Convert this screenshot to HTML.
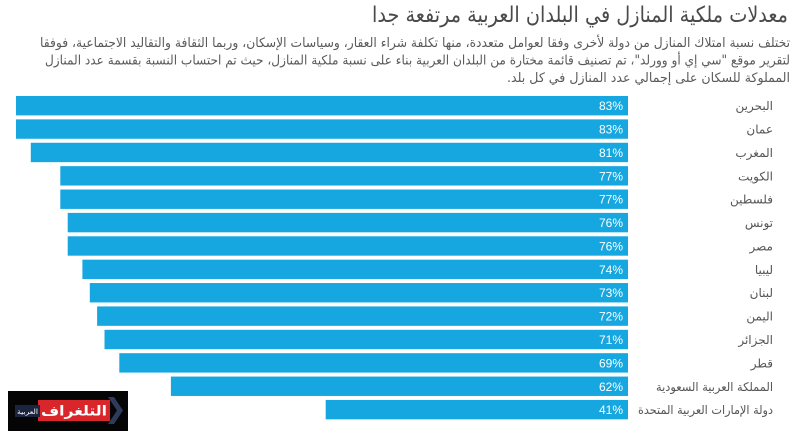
<!DOCTYPE html>
<html lang="ar">
<head>
<meta charset="utf-8">
<style>
  html,body{margin:0;padding:0;background:#fff;}
  body{width:800px;height:435px;overflow:hidden;}
  svg{display:block;}
  .ar{font-family:"DejaVu Sans","Liberation Sans",sans-serif;}
  .pct{font-family:"Liberation Sans",sans-serif;font-size:12px;fill:#fff;}
  .lbl{font-family:"DejaVu Sans","Liberation Sans",sans-serif;font-size:12px;fill:#555;}
</style>
</head>
<body>
<svg width="800" height="435" viewBox="0 0 800 435" xmlns="http://www.w3.org/2000/svg">
  <rect x="0" y="0" width="800" height="435" fill="#fff"/>

  <!-- Title -->
  <text class="ar" direction="rtl" text-anchor="start" x="788" y="22" font-size="22" fill="#4a4a4a" textLength="416" lengthAdjust="spacingAndGlyphs">معدلات ملكية المنازل في البلدان العربية مرتفعة جدا</text>

  <!-- Subtitle -->
  <text class="ar" direction="rtl" text-anchor="start" x="790" y="47" font-size="13" fill="#5a5a5a" textLength="750" lengthAdjust="spacingAndGlyphs">تختلف نسبة امتلاك المنازل من دولة لأخرى وفقا لعوامل متعددة، منها تكلفة شراء العقار، وسياسات الإسكان، وربما الثقافة والتقاليد الاجتماعية، فوفقا</text>
  <text class="ar" direction="rtl" text-anchor="start" x="790" y="64.5" font-size="13" fill="#5a5a5a" textLength="745" lengthAdjust="spacingAndGlyphs">لتقرير موقع "سي إي أو وورلد"، تم تصنيف قائمة مختارة من البلدان العربية بناء على نسبة ملكية المنازل، حيث تم احتساب النسبة بقسمة عدد المنازل</text>
  <text class="ar" direction="rtl" text-anchor="start" x="790" y="82" font-size="13" fill="#5a5a5a" textLength="283" lengthAdjust="spacingAndGlyphs">المملوكة للسكان على إجمالي عدد المنازل في كل بلد.</text>

  <!-- Bars -->
  <g fill="#17a7e0">
    <rect x="16.0" y="96.0" width="612.0" height="19.4"/>
    <rect x="16.0" y="119.38" width="612.0" height="19.4"/>
    <rect x="30.8" y="142.76" width="597.2" height="19.4"/>
    <rect x="60.3" y="166.14" width="567.7" height="19.4"/>
    <rect x="60.3" y="189.52" width="567.7" height="19.4"/>
    <rect x="67.7" y="212.9" width="560.3" height="19.4"/>
    <rect x="67.7" y="236.28" width="560.3" height="19.4"/>
    <rect x="82.4" y="259.66" width="545.6" height="19.4"/>
    <rect x="89.8" y="283.04" width="538.2" height="19.4"/>
    <rect x="97.1" y="306.42" width="530.9" height="19.4"/>
    <rect x="104.5" y="329.8" width="523.5" height="19.4"/>
    <rect x="119.3" y="353.18" width="508.7" height="19.4"/>
    <rect x="170.9" y="376.56" width="457.1" height="19.4"/>
    <rect x="325.7" y="399.94" width="302.3" height="19.4"/>
  </g>

  <!-- Percent labels -->
  <g class="pct" text-anchor="end">
    <text x="623" y="110.2">83%</text>
    <text x="623" y="133.6">83%</text>
    <text x="623" y="157.0">81%</text>
    <text x="623" y="180.4">77%</text>
    <text x="623" y="203.7">77%</text>
    <text x="623" y="227.1">76%</text>
    <text x="623" y="250.5">76%</text>
    <text x="623" y="273.9">74%</text>
    <text x="623" y="297.2">73%</text>
    <text x="623" y="320.6">72%</text>
    <text x="623" y="344.0">71%</text>
    <text x="623" y="367.4">69%</text>
    <text x="623" y="390.8">62%</text>
    <text x="623" y="414.1">41%</text>
  </g>

  <!-- Country labels -->
  <g class="lbl">
    <text direction="rtl" text-anchor="start" x="773" y="110.2">البحرين</text>
    <text direction="rtl" text-anchor="start" x="773" y="133.6">عمان</text>
    <text direction="rtl" text-anchor="start" x="773" y="157.0">المغرب</text>
    <text direction="rtl" text-anchor="start" x="773" y="180.4">الكويت</text>
    <text direction="rtl" text-anchor="start" x="773" y="203.7">فلسطين</text>
    <text direction="rtl" text-anchor="start" x="773" y="227.1">تونس</text>
    <text direction="rtl" text-anchor="start" x="773" y="250.5">مصر</text>
    <text direction="rtl" text-anchor="start" x="773" y="273.9">ليبيا</text>
    <text direction="rtl" text-anchor="start" x="773" y="297.2">لبنان</text>
    <text direction="rtl" text-anchor="start" x="773" y="320.6">اليمن</text>
    <text direction="rtl" text-anchor="start" x="773" y="344.0">الجزائر</text>
    <text direction="rtl" text-anchor="start" x="773" y="367.4">قطر</text>
    <text direction="rtl" text-anchor="start" x="773" y="390.8" textLength="117" lengthAdjust="spacingAndGlyphs">المملكة العربية السعودية</text>
    <text direction="rtl" text-anchor="start" x="773" y="414.1" textLength="135" lengthAdjust="spacingAndGlyphs">دولة الإمارات العربية المتحدة</text>
  </g>

  <!-- Logo -->
  <rect x="8" y="391" width="120" height="40" fill="#050505"/>
  <polygon points="108,397 114,397 123,410.5 114,424 108,424 117,410.5" fill="#2e3b5c"/>
  <rect x="38" y="400" width="72" height="21" fill="#d9262b"/>
  <text class="ar" direction="rtl" text-anchor="start" x="107" y="415.5" font-size="14" font-weight="bold" fill="#fff" textLength="66" lengthAdjust="spacingAndGlyphs">التلغراف</text>
  <rect x="15" y="405" width="25" height="12" fill="#1c2540"/>
  <text class="ar" direction="rtl" text-anchor="start" x="38" y="414" font-size="7" fill="#fff" textLength="21" lengthAdjust="spacingAndGlyphs">العربية</text>
</svg>
</body>
</html>
